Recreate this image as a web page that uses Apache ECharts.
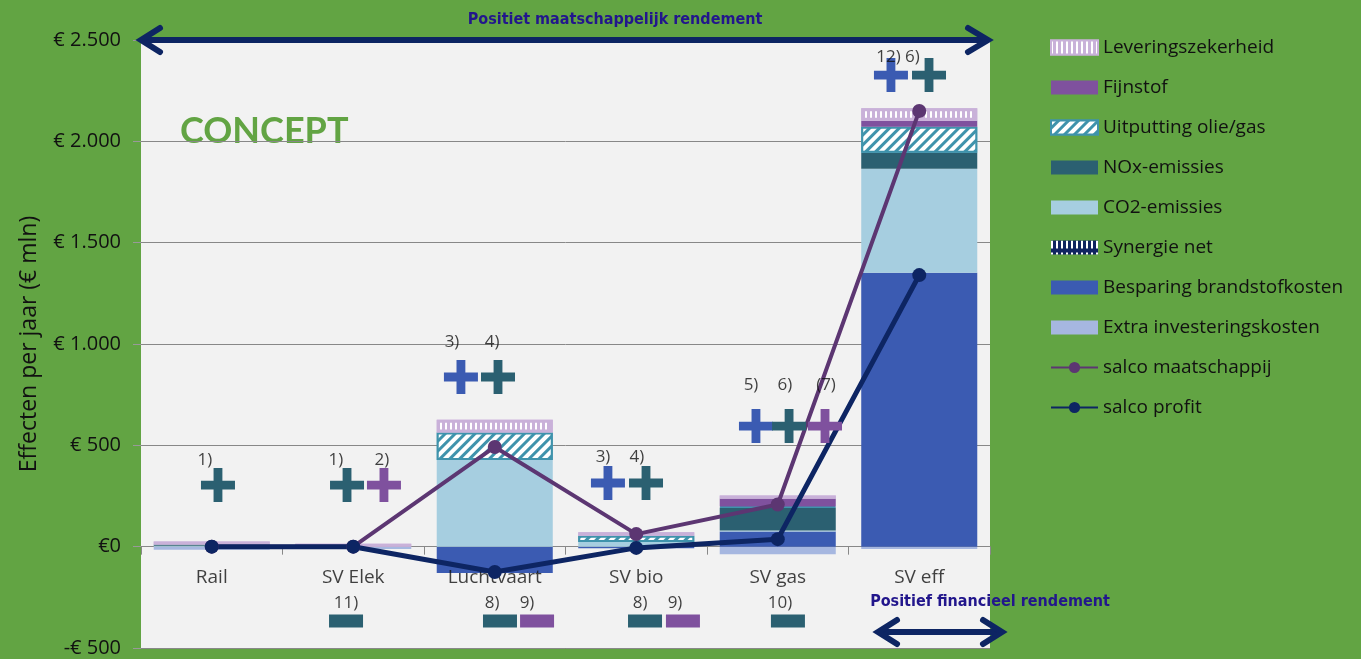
<!DOCTYPE html>
<html>
<head>
<meta charset="utf-8">
<script src="https://cdn.jsdelivr.net/npm/echarts@6/dist/echarts.min.js"></script>
<style>
html,body{margin:0;padding:0;background:#62A443;}
#chart{width:1361px;height:659px;}
</style>
</head>
<body>
<div id="chart"></div>
<script>
// ---- data ----
const categories = ['Rail', 'SV Elek', 'Luchtvaart', 'SV bio', 'SV gas', 'SV eff'];
const extraInvesteringskosten = [-15, -12, 0, 0, -37, -12];
const besparingBrandstofkosten = [0, 0, -130, -8, 75, 1352];
const synergieNet = [0, 0, 0, 0, 0, 0];
const co2Emissies = [5, 0, 428, 23, 5, 513];
const noxEmissies = [6, 0, 0, 0, 113, 79];
const uitputtingOlieGas = [0, 0, 135, 31, 5, 128];
const fijnstof = [0, 0, 0, 0, 40, 30];
const leveringszekerheid = [15, 15, 63, 17, 15, 61];
const salcoMaatschappij = [0, 0, 492, 62, 208, 2150];
const salcoProfit = [0, 0, -125, -6, 37, 1340];

const yTickValues = [-500, 0, 500, 1000, 1500, 2000, 2500];
const yTickLabels = ['-€ 500', '€0', '€ 500', '€ 1.000', '€ 1.500', '€ 2.000', '€ 2.500'];
const categoryLabelY = -154; // level (in € mln) where the category names sit, just below the zero line

// annotation marks (x in category units, y in € mln)
const plusX = [0.044, 0.956, 1.217, 1.761, 2.023, 2.80, 3.069, 3.846, 4.08, 4.334, 4.80, 5.069];
const plusY = [304, 304, 304, 837, 837, 314, 314, 595, 595, 595, 2327, 2327];
const plusKind = ['nox', 'nox', 'fijn', 'besp', 'nox', 'besp', 'nox', 'besp', 'nox', 'fijn', 'besp', 'nox'];
const minusX = [0.949, 2.037, 2.299, 3.062, 3.33, 4.072];
const minusY = [-367, -367, -367, -367, -367, -367];
const minusKind = ['nox', 'nox', 'fijn', 'nox', 'fijn', 'nox'];
const noteX = [-0.048, 0.878, 1.203, 1.698, 1.981, 2.765, 3.005, 3.811, 4.051, 4.341, 4.85, 0.949, 1.981, 2.228, 3.027, 3.274, 4.016];
const noteY = [428, 428, 428, 1010, 1010, 443, 443, 798, 798, 798, 2416, -278, -278, -278, -278, -278, -278];
const noteText = ['1)', '1)', '2)', '3)', '4)', '3)', '4)', '5)', '6)', '(7)', '12) 6)', '11)', '8)', '9)', '8)', '9)', '10)'];

// ---- styles ----
const C = {
  extra: '#A6B7E0', besp: '#3B5BB2', syn: '#0F2460', co2: '#A6CEE0',
  nox: '#2B6071', uit: '#3F93AC', fijn: '#7F519E', lev: '#C9B1D9',
  maat: '#5C3672', profit: '#0D2563'
};
const FONT = '"Open Sans", Lato, sans-serif';
const nz = arr => arr.map(v => (v === 0 ? null : v));

function barSeries(name, data, color, extra) {
  return Object.assign({
    name: name, type: 'bar', stack: 'total', data: nz(data),
    barCategoryGap: '18%',
    itemStyle: { color: color },
    emphasis: { disabled: true },
    z: 2
  }, extra || {});
}

const plusPath = 'path://M37,0H63V37H100V63H63V100H37V63H0V37H37Z';

function markSeries(kind, xs, ys, kinds, symbol, size) {
  const data = [];
  for (let i = 0; i < xs.length; i++) if (kinds[i] === kind) data.push([xs[i], ys[i]]);
  return {
    type: 'scatter', xAxisIndex: 1, yAxisIndex: 0, data: data,
    symbol: symbol, symbolSize: size, silent: true,
    itemStyle: { color: C[kind], opacity: 1 }, z: 6
  };
}

const series = [
  barSeries('Extra investeringskosten', extraInvesteringskosten, C.extra),
  barSeries('Besparing brandstofkosten', besparingBrandstofkosten, C.besp),
  barSeries('Synergie net', synergieNet, C.syn, {
    itemStyle: { color: C.syn, decal: { symbol: 'rect', color: '#fff', dashArrayX: [2, 3], dashArrayY: [8, 4] } }
  }),
  barSeries('CO2-emissies', co2Emissies, C.co2),
  barSeries('NOx-emissies', noxEmissies, C.nox),
  barSeries('Uitputting olie/gas', uitputtingOlieGas, C.uit, {
    itemStyle: { color: C.uit, borderColor: C.uit, borderWidth: 2,
      decal: { symbol: 'rect', color: '#ffffff', dashArrayX: [1, 0], dashArrayY: [4, 3], rotation: -Math.PI / 4 } }
  }),
  barSeries('Fijnstof', fijnstof, C.fijn),
  barSeries('Leveringszekerheid', leveringszekerheid, C.lev, {
    itemStyle: { color: C.lev, borderColor: C.lev, borderWidth: 3,
      decal: { symbol: 'rect', color: '#ffffff', dashArrayX: [2, 3], dashArrayY: [30, 0] } }
  }),
  {
    name: 'salco maatschappij', type: 'line', data: salcoMaatschappij,
    symbol: 'circle', symbolSize: 14, lineStyle: { color: C.maat, width: 4 },
    itemStyle: { color: C.maat }, z: 5, emphasis: { disabled: true }
  },
  {
    name: 'salco profit', type: 'line', data: salcoProfit,
    symbol: 'circle', symbolSize: 14, lineStyle: { color: C.profit, width: 5 },
    itemStyle: { color: C.profit }, z: 5, emphasis: { disabled: true }
  },
  markSeries('besp', plusX, plusY, plusKind, plusPath, 34),
  markSeries('nox', plusX, plusY, plusKind, plusPath, 34),
  markSeries('fijn', plusX, plusY, plusKind, plusPath, 34),
  markSeries('nox', minusX, minusY, minusKind, 'rect', [34, 13]),
  markSeries('fijn', minusX, minusY, minusKind, 'rect', [34, 13]),
  {
    type: 'scatter', xAxisIndex: 1, yAxisIndex: 0, silent: true, z: 7,
    data: noteX.map((x, i) => [x, noteY[i], noteText[i]]),
    symbolSize: 1, itemStyle: { color: 'rgba(0,0,0,0)' },
    label: { show: true, position: 'inside', formatter: p => p.value[2],
      color: '#111', fontSize: 17, fontFamily: FONT }
  },
  {
    // category names, sitting just under the zero line as in the original
    type: 'scatter', xAxisIndex: 0, yAxisIndex: 0, silent: true, z: 4,
    data: categories.map(c => [c, categoryLabelY]),
    symbolSize: 1, itemStyle: { color: 'rgba(0,0,0,0)' },
    label: { show: true, position: 'inside', formatter: p => p.value[0],
      color: '#111', fontSize: 19, fontFamily: FONT }
  }
];

const legendNames = ['Leveringszekerheid', 'Fijnstof', 'Uitputting olie/gas', 'NOx-emissies', 'CO2-emissies',
  'Synergie net', 'Besparing brandstofkosten', 'Extra investeringskosten', 'salco maatschappij', 'salco profit'];

const chart = echarts.init(document.getElementById('chart'));
chart.setOption({
  animation: false,
  backgroundColor: '#62A443',
  grid: { left: 141, right: 371, top: 40, bottom: 11, show: true, backgroundColor: '#F2F2F2', borderWidth: 0,
    containLabel: false, outerBoundsMode: 'none' },
  legend: {
    orient: 'vertical', left: 1045, top: 33,
    itemWidth: 47, itemHeight: 14, itemGap: 21,
    textStyle: { fontSize: 19, fontFamily: FONT, color: '#111', lineHeight: 19 },
    data: legendNames.map(n => (n.indexOf('salco') === 0 ? { name: n } : { name: n, icon: 'rect' }))
  },
  xAxis: [
    {
      type: 'category', data: categories,
      axisLine: { onZero: true, onZeroAxisIndex: 0, lineStyle: { color: '#888', width: 1 } },
      axisTick: { show: true, length: 8, lineStyle: { color: '#888' } },
      axisLabel: { show: false }
    },
    { type: 'value', min: -0.5, max: 5.5, show: false, axisLine: { onZero: false } }
  ],
  yAxis: {
    type: 'value', min: -500, max: 2500, interval: 500,
    name: 'Effecten per jaar (€ mln)', nameLocation: 'middle', nameGap: 100,
    nameTextStyle: { fontSize: 23, fontFamily: FONT, color: '#111' },
    axisLine: { show: false, onZero: false },
    axisTick: { show: true, length: 8, lineStyle: { color: '#999' } },
    axisLabel: { color: '#111', fontSize: 20, fontFamily: FONT, margin: 20,
      formatter: v => yTickLabels[yTickValues.indexOf(v)] },
    splitLine: { lineStyle: { color: '#888', width: 1 } }
  },
  graphic: [
    { type: 'text', left: 180, top: 113, style: { text: 'CONCEPT', fill: '#62A443', font: 'bold 36px Lato, sans-serif' } },
    { type: 'text', x: 615, y: 20, style: { text: 'Positiet maatschappelijk rendement', fill: '#22168C',
      font: 'bold 16px "DejaVu Sans Condensed", sans-serif', textAlign: 'center', textVerticalAlign: 'middle' } },
    { type: 'polyline', shape: { points: [[142, 40], [987, 40]] }, style: { stroke: C.profit, lineWidth: 6 }, z: 10 },
    { type: 'polyline', shape: { points: [[160, 28], [141, 40], [160, 52]] }, style: { stroke: C.profit, lineWidth: 6, fill: null, lineCap: 'round' }, z: 10 },
    { type: 'polyline', shape: { points: [[968, 28], [988, 40], [968, 52]] }, style: { stroke: C.profit, lineWidth: 6, fill: null, lineCap: 'round' }, z: 10 },
    { type: 'text', x: 990, y: 602, style: { text: 'Positief financieel rendement', fill: '#22168C',
      font: 'bold 16px "DejaVu Sans Condensed", sans-serif', textAlign: 'center', textVerticalAlign: 'middle' }, z: 10 },
    { type: 'polyline', shape: { points: [[878, 632], [1002, 632]] }, style: { stroke: C.profit, lineWidth: 6 }, z: 10 },
    { type: 'polyline', shape: { points: [[897, 620], [878, 632], [897, 644]] }, style: { stroke: C.profit, lineWidth: 6, fill: null, lineCap: 'round' }, z: 10 },
    { type: 'polyline', shape: { points: [[983, 620], [1002, 632], [983, 644]] }, style: { stroke: C.profit, lineWidth: 6, fill: null, lineCap: 'round' }, z: 10 }
  ],
  series: series
});
</script>
</body>
</html>
